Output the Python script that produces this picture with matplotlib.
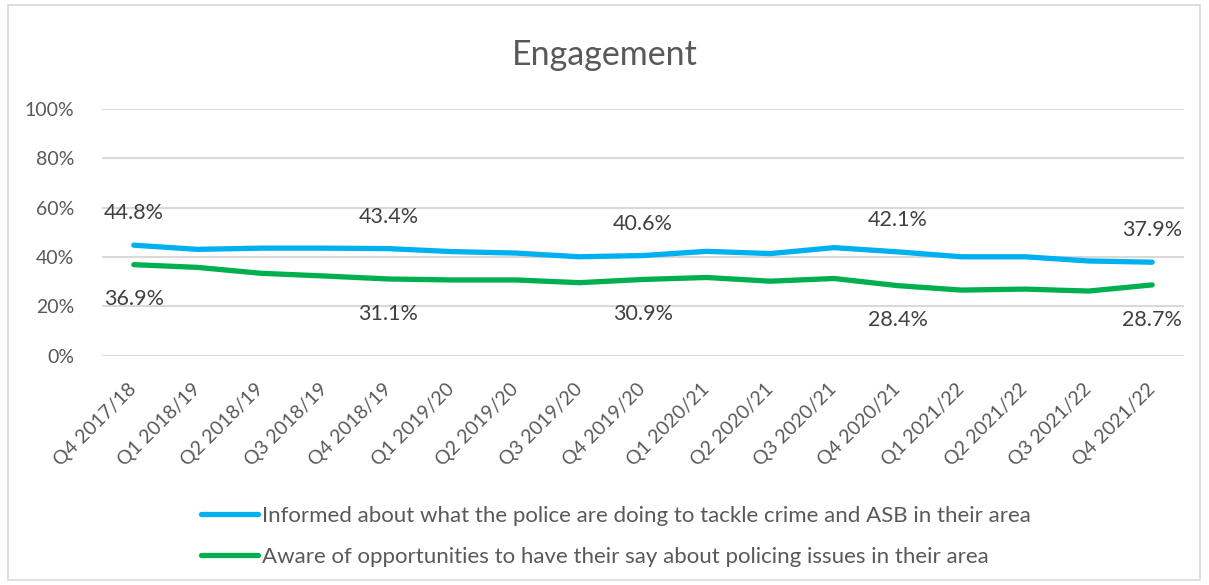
import matplotlib
matplotlib.use("Agg")
import matplotlib.pyplot as plt
from matplotlib.patches import Rectangle

quarters = ["Q4 2017/18", "Q1 2018/19", "Q2 2018/19", "Q3 2018/19", "Q4 2018/19",
            "Q1 2019/20", "Q2 2019/20", "Q3 2019/20", "Q4 2019/20",
            "Q1 2020/21", "Q2 2020/21", "Q3 2020/21", "Q4 2020/21",
            "Q1 2021/22", "Q2 2021/22", "Q3 2021/22", "Q4 2021/22"]

informed = [44.8, 43.1, 43.6, 43.6, 43.4, 42.2, 41.6, 40.1, 40.6,
            42.3, 41.4, 43.8, 42.1, 40.1, 40.1, 38.4, 37.9]
aware = [36.9, 35.8, 33.4, 32.3, 31.1, 30.7, 30.7, 29.6, 30.9,
         31.7, 30.2, 31.3, 28.4, 26.6, 27.0, 26.2, 28.7]

# only every fourth quarter (Q4) gets a value label
labelled = [0, 4, 8, 12, 16]

informed_name = "Informed about what the police are doing to tackle crime and ASB in their area"
aware_name = "Aware of opportunities to have their say about policing issues in their area"

plt.rcParams['font.family'] = ['Lato', 'DejaVu Sans']

W, H = 1209, 585
fig = plt.figure(figsize=(W / 100, H / 100), dpi=100)
fig.patch.set_facecolor("white")

# chart border
fig.add_artist(Rectangle((8 / W, 5 / H), (1200 - 8) / W, (580 - 5) / H,
                         transform=fig.transFigure, fill=False,
                         edgecolor="#D9D9D9", linewidth=1.2))

ax = fig.add_axes([102 / W, 1 - 355.7 / H, (1184 - 102) / W, (355.7 - 109) / H])

x = list(range(len(quarters)))
blue, green = "#00B0F0", "#00B050"
ax.plot(x, informed, color=blue, lw=3.8, solid_capstyle="round",
        solid_joinstyle="round", label=informed_name, zorder=3)
ax.plot(x, aware, color=green, lw=3.8, solid_capstyle="round",
        solid_joinstyle="round", label=aware_name, zorder=3)

for i in labelled:
    ax.annotate(f"{informed[i]:.1f}%", (i, informed[i]), xytext=(0, 23),
                textcoords="offset points", ha="center", va="center",
                fontsize=15.5, color="#404040")
    ax.annotate(f"{aware[i]:.1f}%", (i, aware[i]), xytext=(0, -25),
                textcoords="offset points", ha="center", va="center",
                fontsize=15.5, color="#404040")

ax.set_xlim(-0.5, len(quarters) - 0.5)
ax.set_ylim(0, 100)
ax.set_yticks(range(0, 101, 20))
ax.set_yticklabels([f"{v}%" for v in range(0, 101, 20)])
ax.set_xticks(x)
ax.set_xticklabels(quarters, rotation=45, ha="right", va="center",
                   rotation_mode="anchor")
ax.tick_params(axis="both", length=0, labelsize=14, colors="#595959")
ax.tick_params(axis="x", pad=22)
ax.tick_params(axis="y", pad=20)
ax.grid(axis="y", color="#D9D9D9", lw=1.5)
ax.set_axisbelow(True)
for s in ax.spines.values():
    s.set_visible(False)

fig.text(0.5, 1 - 55 / H, "Engagement", ha="center", va="center",
         fontsize=24.5, color="#595959")

fig.legend(loc="upper left", bbox_to_anchor=(192 / W, 1 - 497 / H),
           frameon=False, fontsize=16, handlelength=2.55, handletextpad=0.18,
           labelspacing=0.95, labelcolor="#595959", borderaxespad=0)

fig.savefig("out.png", dpi=100, facecolor="white")
